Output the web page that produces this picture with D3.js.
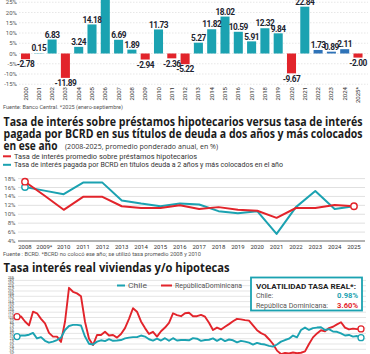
<!DOCTYPE html>
<html>
<head>
<meta charset="utf-8">
<script src="https://cdn.jsdelivr.net/npm/d3@7"></script>
<style>
body { margin: 0; background: #fff; }
svg { display: block; font-family: Roboto, "Open Sans", sans-serif; }
</style>
</head>
<body>
<svg id="chart" width="370" height="354"></svg>
<script>
// grafico 1: tasa real anual (%)
var years = ["2000","2001","2002","2003","2004","2005","2006","2007","2008","2009","2010","2011","2012",
             "2013","2014","2015","2016","2017","2018","2019","2020","2021","2022","2023","2024","2025*"];
var realRates = [-2.78, 0.15, 6.83, -11.89, 3.24, 14.18, 26.8, 6.69, 1.89, -2.94, 11.73, -2.36, -5.22,
                 5.27, 11.82, 18.02, 10.59, 5.91, 12.32, 9.84, -9.67, 22.84, 1.73, 0.89, 2.11, -2.00];
var blueYears = ["2022","2023","2024"];
var ticks1 = [-15, -10, -5, 0, 5, 10, 15, 20, 25];

// grafico 2: hipotecarios vs BCRD (%)
var years2 = ["2008","2009*","2010","2011","2012","2013","2014","2015","2016","2017","2018","2019",
              "2020","2021","2022","2023","2024","2025"];
var hipotecarios = [17.3, 14.2, 11.0, 13.9, 13.9, 11.8, 11.4, 11.4, 12.0, 11.2, 11.6, 11.0, 10.8, 9.2, 11.4, 11.4, 12.1, 11.8];
var bcrd = [16.1, 15.3, 14.5, 17.1, 17.1, 13.1, 12.4, 11.8, 12.4, 12.2, 10.7, 10.2, 10.7, 5.6, 11.6, 15.2, 11.2, 11.8];
var ticks2 = [4, 6, 8, 10, 12, 14, 16, 18];

// grafico 3: tasa real viviendas (%)
var rdReal = [10.3, 10.4, 8.5, 7.0, 12.2, 11.6, 9.5, 7.8, 4.2, 2.8, 2.8, 0.8, 8.4, 21.2, 19.7, 19.1, 18.0,
              8.4, 2.0, -0.4, 3.4, 3.4, 4.6, 3.2, 3.4, 2.4, 3.8, 6.0, 9.5, 13.5, 12.2, 8.5, 6.0, 3.8, 4.6,
              2.8, 4.8, 6.2, 8.0, 11.6, 10.9, 10.5, 11.6, 11.8, 10.5, 10.5, 11.0, 10.3, 8.0, 5.3, 6.2, 5.5,
              6.5, 7.5, 8.6, 9.5, 9.3, 9.0, 8.8, 7.0, 5.2, 4.1, 3.4, 1.8, 0.0, -2.5, -3.8, -3.4, -3.6, -3.2,
              -3.5, -3.3, -2.8, 0.0, 2.5, 4.0, 5.2, 4.8, 6.0, 6.5, 7.4, 8.2, 6.2, 5.5, 5.8, 5.6, 5.7];
var chileReal = [2.8, 3.2, 3.2, 3.5, 4.2, 2.1, 2.6, 1.2, 0.5, 0.9, 1.5, 2.4, 5.3, 6.8, 7.2, 7.2, 7.0,
                 2.8, 0.1, -0.2, 0.9, 1.4, 1.1, 1.8, 1.2, 1.3, 1.5, 2.1, 2.4, 2.6, 2.6, 3.2, 2.8, 1.8, 1.3,
                 2.0, 1.3, 2.2, 1.2, 2.2, 1.3, 1.5, 1.5, 1.4, 2.2, 2.0, 1.2, 1.5, 1.6, 2.1, 1.2, 2.0, 1.1,
                 1.7, 1.4, 0.6, 1.2, 0.9, 0.5, -0.2, 0.4, 0.0, -0.2, -0.7, -1.0, -0.2, 0.9, 1.5, 2.0, 3.2,
                 2.5, 5.3, 6.2, 5.3, 6.0, 6.2, 6.3, 5.3, 5.6, 4.7, 4.6, 4.0, 3.2, 3.4, 2.8, 3.0, 2.4];
var ticks3 = d3.range(25, -5, -1);

var teal = "#1ba2b1", red = "#e2242b", blue = "#2e73b8", ink = "#1b1b1b", grey = "#555";
var svg = d3.select("#chart");

// ---------- grafico 1: barras
var x1 = d3.scaleBand().domain(years).range([18.85, 364.65]).paddingInner(0.32).paddingOuter(0.16);
var y1 = d3.scaleLinear().domain([-15, 25]).range([84.25, 2.25]);

svg.append("g").selectAll("line").data(ticks1).enter().append("line")
  .attr("x1", 19).attr("x2", 368)
  .attr("y1", function(d) { return y1(d); }).attr("y2", function(d) { return y1(d); })
  .attr("stroke", "#d6d6d6").attr("stroke-width", 0.6).attr("stroke-dasharray", "1.5,1.5");

svg.append("g").selectAll("text").data(ticks1).enter().append("text")
  .attr("x", 17).attr("y", function(d) { return y1(d) + 2; })
  .attr("text-anchor", "end").attr("font-size", 6).attr("fill", grey)
  .text(function(d) { return d + "%"; });

svg.append("g").selectAll("rect").data(realRates).enter().append("rect")
  .attr("x", function(d, i) { return x1(years[i]); })
  .attr("y", function(d) { return y1(Math.max(d, 0)); })
  .attr("width", x1.bandwidth())
  .attr("height", function(d) { return Math.abs(y1(d) - y1(0)); })
  .attr("fill", function(d, i) {
    if (d < 0) return red;
    return blueYears.indexOf(years[i]) >= 0 ? blue : teal;
  });

svg.append("g").selectAll("text").data(realRates).enter().append("text")
  .attr("x", function(d, i) { return x1(years[i]) + x1.bandwidth() / 2; })
  .attr("y", function(d) { return d >= 0 ? y1(d) - 1.8 : y1(d) + 8.2; })
  .attr("text-anchor", "middle").attr("font-size", 8.3).attr("font-weight", 700)
  .attr("letter-spacing", -0.5).attr("fill", "#1c2430")
  .text(function(d) { return d.toFixed(2); });

svg.append("g").selectAll("text").data(years).enter().append("text")
  .attr("transform", function(d) { return "translate(" + (x1(d) + x1.bandwidth() / 2 + 2) + ",87) rotate(-90)"; })
  .attr("text-anchor", "end").attr("font-size", 6).attr("fill", "#333")
  .text(function(d) { return d; });

svg.append("text").attr("x", 3).attr("y", 109).attr("font-size", 5.4).attr("fill", grey)
  .attr("textLength", 120).attr("lengthAdjust", "spacingAndGlyphs")
  .text("Fuente: Banco Central. *2025 (enero-septiembre)");

// ---------- grafico 2: titulo y lineas
var titleFont = "'Open Sans', Roboto, sans-serif";
function title(txt, x, y, len, size, weight) {
  return svg.append("text").attr("x", x).attr("y", y).attr("font-family", titleFont)
    .attr("font-size", size).attr("font-weight", weight).attr("fill", ink)
    .attr("textLength", len).attr("lengthAdjust", "spacingAndGlyphs").text(txt);
}
title("Tasa de interés sobre préstamos hipotecarios versus tasa de interés", 3.5, 126, 359, 12, 700);
title("pagada por BCRD en sus títulos de deuda a dos años y más colocados", 3.5, 137.5, 359, 12, 700);
title("en ese año", 3.5, 149.5, 54, 12, 700);
title("(2008-2025, promedio ponderado anual, en %)", 65, 149, 153, 7, 400).attr("fill", "#333");

svg.append("line").attr("x1", 3).attr("x2", 11).attr("y1", 156.3).attr("y2", 156.3)
  .attr("stroke", red).attr("stroke-width", 2);
svg.append("text").attr("x", 14).attr("y", 158.5).attr("font-size", 6.3).attr("fill", "#333")
  .attr("textLength", 183).attr("lengthAdjust", "spacingAndGlyphs")
  .text("Tasa de interés promedio sobre préstamos hipotecarios");
svg.append("line").attr("x1", 3).attr("x2", 11).attr("y1", 164.8).attr("y2", 164.8)
  .attr("stroke", teal).attr("stroke-width", 2);
svg.append("text").attr("x", 14).attr("y", 167).attr("font-size", 6.3).attr("fill", "#333")
  .attr("textLength", 269).attr("lengthAdjust", "spacingAndGlyphs")
  .text("Tasa de interés pagada por BCRD en títulos deuda a 2 años y más colocados en el año");

var x2 = d3.scalePoint().domain(years2).range([25, 354]);
var y2 = d3.scaleLinear().domain([4, 18]).range([241, 178.6]);

svg.append("g").selectAll("line").data(ticks2).enter().append("line")
  .attr("x1", 18).attr("x2", 365)
  .attr("y1", function(d) { return y2(d); }).attr("y2", function(d) { return y2(d); })
  .attr("stroke", function(d) { return d === 4 ? "#666" : "#d2d2d2"; })
  .attr("stroke-width", function(d) { return d === 4 ? 1 : 0.7; });

svg.append("g").selectAll("text").data(ticks2).enter().append("text")
  .attr("x", 15.5).attr("y", function(d) { return y2(d) + 2; })
  .attr("text-anchor", "end").attr("font-size", 6).attr("fill", grey)
  .text(function(d) { return d + "%"; });

svg.append("g").selectAll("text").data(years2).enter().append("text")
  .attr("x", function(d) { return x2(d); }).attr("y", 249)
  .attr("text-anchor", "middle").attr("font-size", 6).attr("fill", "#333")
  .text(function(d) { return d; });

var line2 = d3.line().x(function(d, i) { return x2(years2[i]); }).y(function(d) { return y2(d); });
svg.append("path").datum(bcrd).attr("d", line2).attr("fill", "none")
  .attr("stroke", teal).attr("stroke-width", 2).attr("stroke-linejoin", "round");
svg.append("path").datum(hipotecarios).attr("d", line2).attr("fill", "none")
  .attr("stroke", red).attr("stroke-width", 2).attr("stroke-linejoin", "round");

var marks2 = [[years2[0], bcrd[0], teal], [years2[0], hipotecarios[0], red],
              [years2[years2.length - 1], hipotecarios[hipotecarios.length - 1], red]];
svg.append("g").selectAll("circle").data(marks2).enter().append("circle")
  .attr("cx", function(d) { return x2(d[0]); }).attr("cy", function(d) { return y2(d[1]); })
  .attr("r", 3.2).attr("fill", "#fff").attr("stroke", function(d) { return d[2]; }).attr("stroke-width", 1.4);

svg.append("text").attr("x", 3).attr("y", 255.5).attr("font-size", 5.4).attr("fill", grey)
  .attr("textLength", 198).attr("lengthAdjust", "spacingAndGlyphs")
  .text("Fuente : BCRD. *BCRD no colocó ese año; se utilizó tasa promedio 2008 y 2010");

// ---------- grafico 3: tasa real
title("Tasa interés real viviendas y/o hipotecas", 3.5, 272, 226, 12.5, 700);

var x3 = d3.scaleLinear().domain([0, rdReal.length - 1]).range([17, 361]);
var y3 = d3.scaleLinear().domain([-4, 25]).range([354.6, 277.75]);

svg.append("g").selectAll("line").data(ticks3.filter(function(d) { return d % 2 === 0; })).enter().append("line")
  .attr("x1", 15).attr("x2", 366)
  .attr("y1", function(d) { return y3(d); }).attr("y2", function(d) { return y3(d); })
  .attr("stroke", "#d4d4d4").attr("stroke-width", 0.6);

svg.append("g").selectAll("text").data(ticks3).enter().append("text")
  .attr("x", 14).attr("y", function(d) { return y3(d) + 1; })
  .attr("text-anchor", "end").attr("font-size", 3.2).attr("fill", "#444")
  .text(function(d) { return d + "%"; });

var line3 = d3.line().x(function(d, i) { return x3(i); }).y(function(d) { return y3(d); });
svg.append("path").datum(rdReal).attr("d", line3).attr("fill", "none")
  .attr("stroke", red).attr("stroke-width", 1.9).attr("stroke-linejoin", "round");
svg.append("path").datum(chileReal).attr("d", line3).attr("fill", "none")
  .attr("stroke", teal).attr("stroke-width", 1.9).attr("stroke-linejoin", "round");

var n3 = rdReal.length - 1;
var marks3 = [[0, rdReal[0], red], [0, chileReal[0], teal], [n3, rdReal[n3], red], [n3, chileReal[n3], teal]];
svg.append("g").selectAll("circle").data(marks3).enter().append("circle")
  .attr("cx", function(d) { return x3(d[0]); }).attr("cy", function(d) { return y3(d[1]); })
  .attr("r", 3).attr("fill", "#fff").attr("stroke", function(d) { return d[2]; }).attr("stroke-width", 1.3);

// leyenda
svg.append("line").attr("x1", 117).attr("x2", 125).attr("y1", 285.5).attr("y2", 285.5)
  .attr("stroke", teal).attr("stroke-width", 2);
svg.append("text").attr("x", 128).attr("y", 288).attr("font-size", 7).attr("fill", grey)
  .attr("textLength", 19).attr("lengthAdjust", "spacingAndGlyphs").text("Chile");
svg.append("line").attr("x1", 161).attr("x2", 172).attr("y1", 285.5).attr("y2", 285.5)
  .attr("stroke", red).attr("stroke-width", 2);
svg.append("text").attr("x", 175).attr("y", 288).attr("font-size", 7).attr("fill", grey)
  .attr("textLength", 67).attr("lengthAdjust", "spacingAndGlyphs").text("RepúblicaDominicana");

// recuadro volatilidad
svg.append("rect").attr("x", 251).attr("y", 277.5).attr("width", 111).attr("height", 33)
  .attr("fill", "#fff").attr("stroke", teal).attr("stroke-width", 1.8);
svg.append("text").attr("x", 256).attr("y", 289).attr("font-size", 7.6).attr("font-weight", 700)
  .attr("fill", "#222").attr("textLength", 100).attr("lengthAdjust", "spacingAndGlyphs")
  .text("VOLATILIDAD  TASA REAL*:");
svg.append("text").attr("x", 256).attr("y", 298).attr("font-size", 7).attr("fill", grey).text("Chile:");
svg.append("text").attr("x", 358).attr("y", 298).attr("text-anchor", "end").attr("font-size", 7.6)
  .attr("font-weight", 700).attr("fill", teal).text("0.98%");
svg.append("text").attr("x", 256).attr("y", 307.5).attr("font-size", 7).attr("fill", grey)
  .attr("textLength", 72).attr("lengthAdjust", "spacingAndGlyphs").text("República Dominicana:");
svg.append("text").attr("x", 358).attr("y", 307.5).attr("text-anchor", "end").attr("font-size", 7.6)
  .attr("font-weight", 700).attr("fill", red).text("3.60%");
</script>
</body>
</html>
